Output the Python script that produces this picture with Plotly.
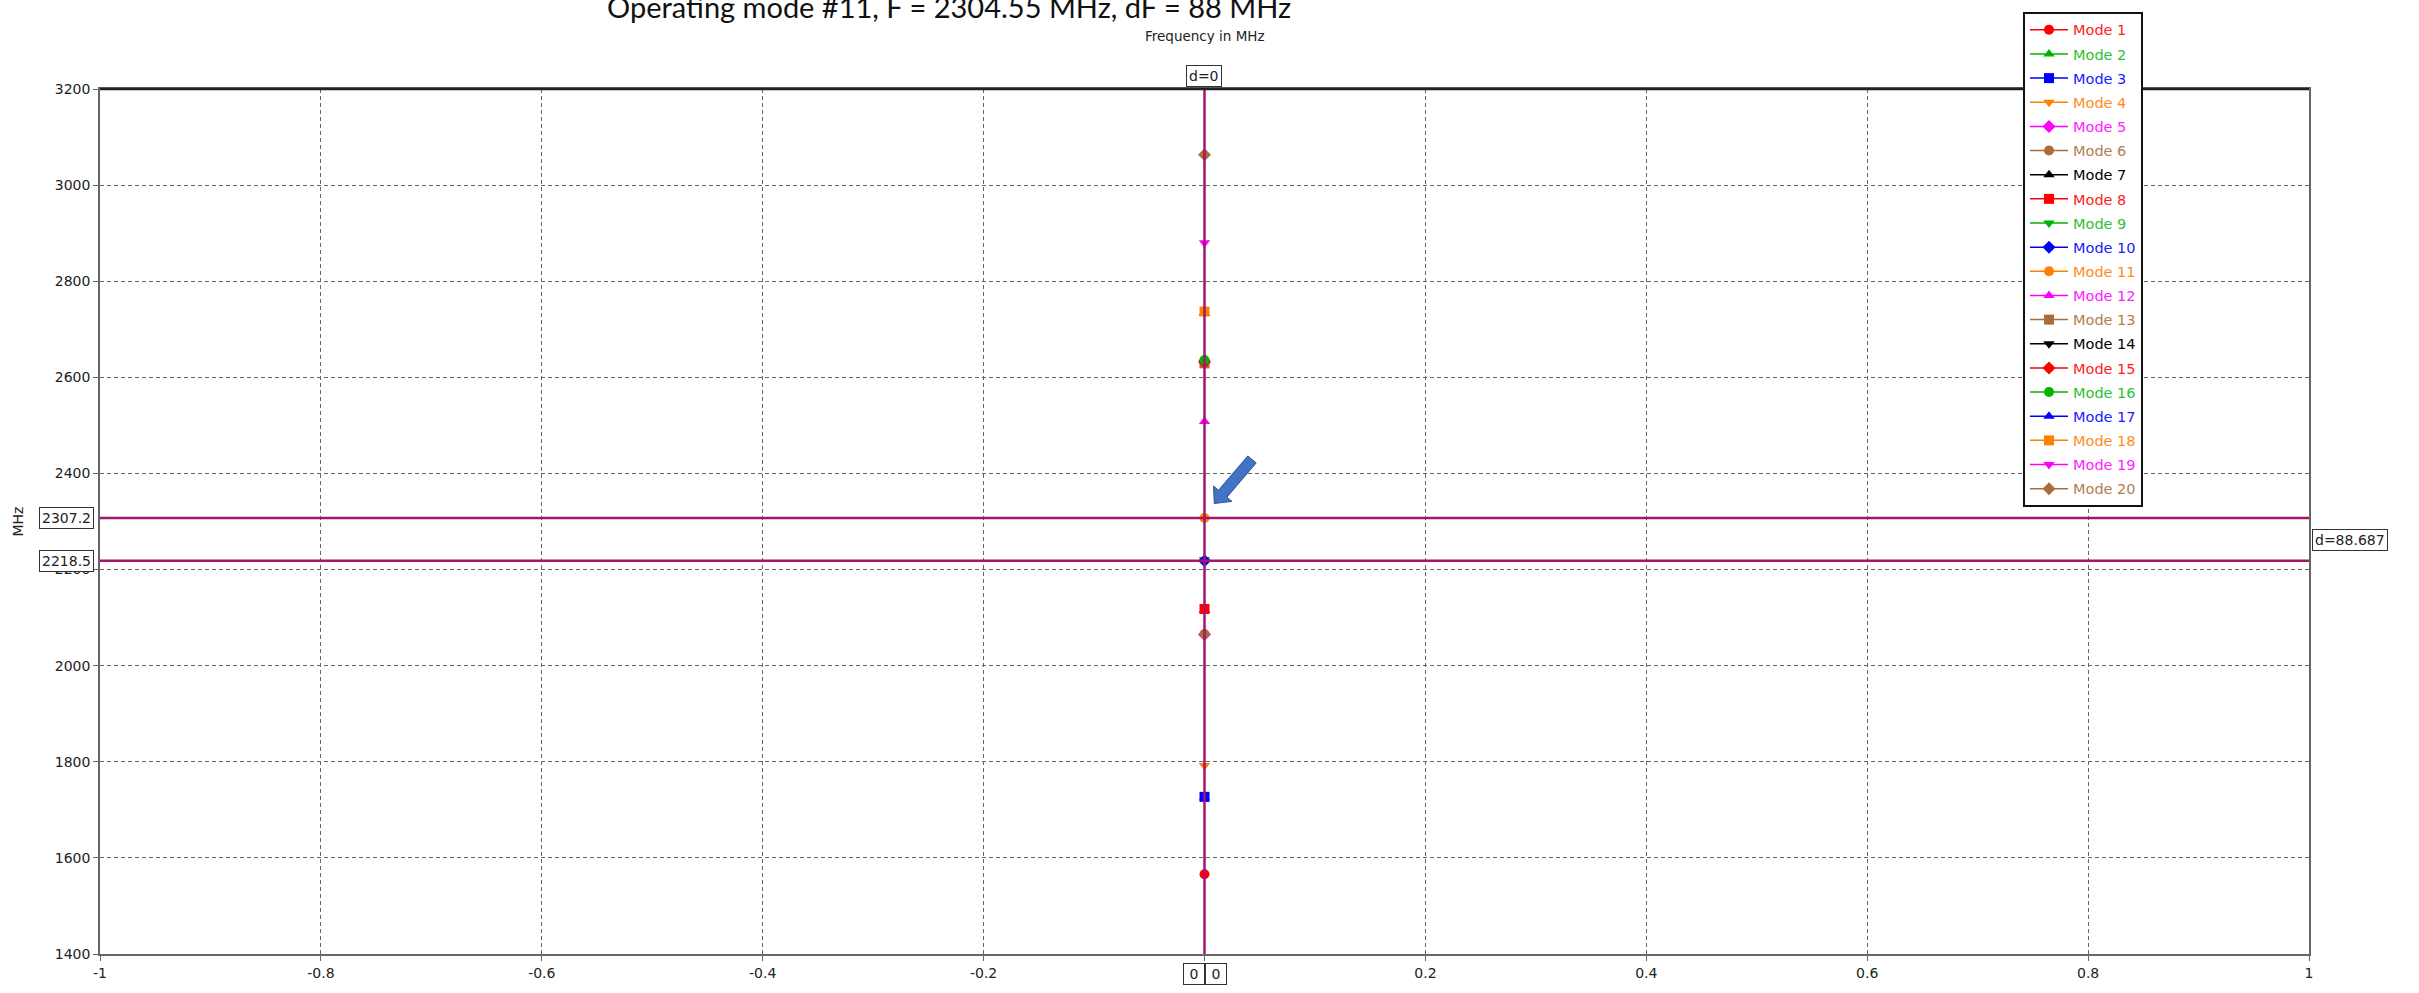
import plotly.graph_objects as go
import math

# ---------------- data ----------------
modes = [f"Mode {i}" for i in range(1, 21)]
mode_x = [0] * 20
mode_freq = [1566, 1725, 1727, 1792, 2065, 2066, 2116, 2118, 2221, 2218.5,
             2307.2, 2508, 2629, 2631, 2632, 2636, 2734, 2737, 2880, 3063]
mode_colors = ["#FF0000", "#00B400", "#0000FF", "#FF8000", "#FF00FF", "#A86E3A",
               "#000000", "#FF0000", "#00B400", "#0000FF", "#FF8000", "#FF00FF",
               "#A86E3A", "#000000", "#FF0000", "#00B400", "#0000FF", "#FF8000",
               "#FF00FF", "#A86E3A"]
mode_symbols = ["circle", "triangle-up", "square", "triangle-down", "diamond"] * 4
text_colors = ["#FF2020", "#30C030", "#2020FF", "#FF8C1A", "#FF20FF", "#B08050",
               "#000000", "#FF2020", "#30C030", "#2020FF", "#FF8C1A", "#FF20FF",
               "#B08050", "#000000", "#FF2020", "#30C030", "#2020FF", "#FF8C1A",
               "#FF20FF", "#B08050"]

xticks = [-1, -0.8, -0.6, -0.4, -0.2, 0, 0.2, 0.4, 0.6, 0.8, 1]
xtick_text = ["-1", "-0.8", "-0.6", "-0.4", "-0.2", "", "0.2", "0.4", "0.6", "0.8", "1"]
yticks = [1400, 1600, 1800, 2000, 2200, 2400, 2600, 2800, 3000, 3200]

marker_a = 2307.2
marker_b = 2218.5
delta = 88.687
title_text = "Operating mode #11, F = 2304.55 MHz, dF = 88 MHz"

# ---------------- layout geometry ----------------
W, H = 2419, 993
L, R, T, B = 100, 110, 84, 34
PW, PH = W - L - R, H - T - B


def px2paper_x(px):
    return (px - L) / PW


def py2paper_y(py):
    return (H - B - py) / PH


def px2dx(px):
    return -1 + 2 * (px - L) / PW


def py2dy(py):
    return 3200 - 1800 * (py - T) / PH


fig = go.Figure()

for i in range(20):
    fig.add_trace(go.Scatter(
        x=[mode_x[i]], y=[mode_freq[i]],
        mode="lines+markers",
        name=f"<span style='color:{text_colors[i]}'>{modes[i]}</span>",
        legendgroup=f"g{i}",
        line=dict(color=mode_colors[i], width=1.5),
        marker=dict(symbol=mode_symbols[i], color=mode_colors[i], size=10,
                    line=dict(width=0)),
    ))

LINEC = "#A3166C"
shapes = [
    dict(type="line", xref="x", yref="paper", x0=0, x1=0, y0=0, y1=1,
         line=dict(color=LINEC, width=2.5), layer="above"),
    dict(type="line", xref="paper", yref="y", x0=0, x1=1, y0=marker_a, y1=marker_a,
         line=dict(color=LINEC, width=2.5), layer="above"),
    dict(type="line", xref="paper", yref="y", x0=0, x1=1, y0=marker_b, y1=marker_b,
         line=dict(color=LINEC, width=2.5), layer="above"),
    dict(type="line", xref="paper", yref="paper", x0=0, x1=1, y0=1, y1=1,
         line=dict(color="#222222", width=2.5), layer="above"),
]

# block arrow (decoration), built in pixel space then mapped to data coordinates
tail = (1252.0, 458.7)
tip = (1214.3, 503.3)
dx, dy = tip[0] - tail[0], tip[1] - tail[1]
ln = math.hypot(dx, dy)
ux, uy = dx / ln, dy / ln
nx, ny = -uy, ux
sw, hw, hl = 11.0, 24.0, 13.0
neck = (tip[0] - ux * hl, tip[1] - uy * hl)
pts = [
    (tail[0] + nx * sw / 2, tail[1] + ny * sw / 2),
    (neck[0] + nx * sw / 2, neck[1] + ny * sw / 2),
    (neck[0] + nx * hw / 2, neck[1] + ny * hw / 2),
    tip,
    (neck[0] - nx * hw / 2, neck[1] - ny * hw / 2),
    (neck[0] - nx * sw / 2, neck[1] - ny * sw / 2),
    (tail[0] - nx * sw / 2, tail[1] - ny * sw / 2),
]
path = "M " + " L ".join(f"{px2dx(p[0]):.5f},{py2dy(p[1]):.3f}" for p in pts) + " Z"
shapes.append(dict(type="path", xref="x", yref="y", path=path,
                   fillcolor="#4472C4", line=dict(color="#2F528F", width=1),
                   layer="above"))

FONT = "DejaVu Sans"
box_font = dict(family=FONT, size=14, color="#222222")


def box(text, px, py, xanchor="center", width=None):
    d = dict(text=text, xref="paper", yref="paper", x=px2paper_x(px), y=py2paper_y(py),
             xanchor=xanchor, yanchor="middle", showarrow=False, font=box_font,
             bgcolor="white", bordercolor="#333333", borderwidth=1, borderpad=2)
    if width is not None:
        d["width"] = width
    return d


annotations = [
    # title (cut off at the top of the page)
    dict(text=title_text, xref="paper", yref="paper", x=px2paper_x(949), y=py2paper_y(1),
         xanchor="center", yanchor="middle", showarrow=False,
         font=dict(family="Lato", size=29, color="#111111")),
    dict(text="Frequency in MHz", xref="paper", yref="paper", x=0.5, y=py2paper_y(30),
         xanchor="center", yanchor="middle", showarrow=False,
         font=dict(family=FONT, size=13.5, color="#222222")),
    dict(text="MHz", xref="paper", yref="paper", x=px2paper_x(17), y=0.5,
         xanchor="center", yanchor="middle", showarrow=False, textangle=-90,
         font=dict(family=FONT, size=14, color="#222222")),
    box("d=0", 1204, 71),
    box(f"{marker_a}", 94, 518, xanchor="right"),
    box(f"{marker_b}", 94, 561, xanchor="right"),
    box(f"d={delta}", 2312, 540, xanchor="left"),
    box("0", 1194, 979, width=16),
    box("0", 1215.5, 979, width=16),
]

fig.update_layout(
    width=W, height=H,
    margin=dict(l=L, r=R, t=T, b=B, pad=0),
    paper_bgcolor="white", plot_bgcolor="white",
    showlegend=True,
    legend=dict(x=px2paper_x(2023), y=py2paper_y(6), xanchor="left", yanchor="top",
                bgcolor="white", bordercolor="#111111", borderwidth=2,
                font=dict(family=FONT, size=14.5), tracegroupgap=2.3,
                traceorder="grouped", itemwidth=38),
    shapes=shapes,
    annotations=annotations,
    xaxis=dict(range=[-1, 1], tickvals=xticks, ticktext=xtick_text,
               showgrid=True, gridcolor="#666666", griddash="4px,3px", gridwidth=1,
               zeroline=False, showline=True, linecolor="#666666", linewidth=2,
               mirror=True, ticks="outside", ticklen=5, tickcolor="#666666",
               tickfont=dict(family=FONT, size=14, color="#222222")),
    yaxis=dict(range=[1400, 3200], tickvals=yticks,
               showgrid=True, gridcolor="#666666", griddash="4px,3px", gridwidth=1,
               zeroline=False, showline=True, linecolor="#666666", linewidth=1.5,
               mirror=True, ticks="outside", ticklen=5, tickcolor="#666666",
               tickfont=dict(family=FONT, size=14, color="#222222")),
)

fig.write_html("out.html")
